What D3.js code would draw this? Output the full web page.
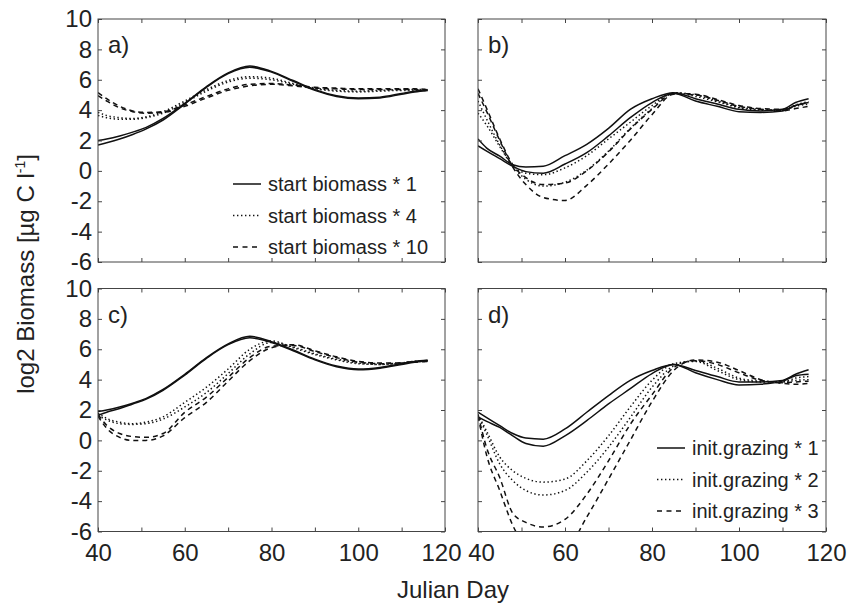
<!DOCTYPE html>
<html>
<head>
<meta charset="utf-8">
<script src="https://cdn.jsdelivr.net/npm/d3@7"></script>
<style>
  body { margin: 0; background: #fff; }
  svg { display: block; font-family: "Liberation Sans", Arial, sans-serif; }
</style>
</head>
<body>
<div id="chart"></div>
<script>
// sample days shared by all curves
const days = [40, 42, 45, 48, 51, 55, 60, 65, 70, 75, 80, 85, 90, 95, 100, 105, 110, 113, 116];

// a) start biomass
const aSolid = [
  [2.0, 2.1, 2.3, 2.55, 2.85, 3.45, 4.45, 5.55, 6.45, 6.9, 6.55, 5.95, 5.35, 4.95, 4.8, 4.85, 5.1, 5.25, 5.35],
  [1.7, 1.85, 2.1, 2.4, 2.75, 3.35, 4.4, 5.5, 6.4, 6.82, 6.5, 5.9, 5.3, 4.9, 4.75, 4.8, 5.05, 5.2, 5.3]
];
const aDotted = [
  [3.85, 3.65, 3.5, 3.45, 3.55, 3.9, 4.6, 5.35, 5.95, 6.2, 6.1, 5.75, 5.45, 5.3, 5.25, 5.3, 5.35, 5.35, 5.35],
  [3.65, 3.5, 3.4, 3.4, 3.5, 3.8, 4.5, 5.25, 5.85, 6.1, 6.0, 5.7, 5.4, 5.25, 5.2, 5.25, 5.3, 5.3, 5.3]
];
const aDashed = [
  [5.15, 4.75, 4.25, 3.95, 3.85, 3.9, 4.35, 4.9, 5.4, 5.7, 5.75, 5.65, 5.5, 5.45, 5.4, 5.4, 5.4, 5.4, 5.35],
  [4.95, 4.6, 4.15, 3.9, 3.8, 3.85, 4.25, 4.8, 5.3, 5.6, 5.7, 5.6, 5.45, 5.4, 5.35, 5.35, 5.35, 5.35, 5.3]
];

// b)
const bSolid = [
  [2.1, 1.5, 0.97, 0.4, 0.25, 0.3, 1.0, 1.75, 2.8, 4.05, 4.75, 5.15, 4.75, 4.4, 4.05, 3.95, 4.05, 4.5, 4.75],
  [1.65, 1.3, 0.8, 0.3, -0.05, -0.15, 0.45, 1.2, 2.3, 3.5, 4.5, 5.1, 4.6, 4.25, 3.9, 3.85, 3.95, 4.3, 4.5]
];
const bDotted = [
  [4.6, 3.4, 1.7, 0.35, -0.15, -0.25, 0.2, 1.0, 2.1, 3.2, 4.3, 5.15, 4.9, 4.55, 4.15, 4.0, 4.0, 4.35, 4.55],
  [3.8, 3.0, 1.6, 0.3, -0.55, -1.0, -0.75, 0.05, 1.3, 2.8, 4.1, 5.15, 5.0, 4.6, 4.2, 4.05, 4.0, 4.25, 4.4]
];
const bDashed = [
  [5.4, 4.1, 2.1, 0.4, -0.45, -0.9, -0.8, 0.0, 1.25, 2.75, 4.05, 5.1, 5.05, 4.7, 4.3, 4.1, 4.05, 4.3, 4.5],
  [5.1, 3.9, 2.0, 0.25, -0.9, -1.75, -1.95, -0.95, 0.45, 2.0, 3.7, 5.05, 5.0, 4.65, 4.25, 4.05, 3.95, 4.1, 4.25]
];

// c)
const cSolid = [
  [1.9, 2.0, 2.2, 2.45, 2.75, 3.35, 4.35, 5.45, 6.35, 6.85, 6.5, 5.95, 5.35, 4.9, 4.7, 4.8, 5.05, 5.2, 5.3],
  [1.65, 1.85, 2.1, 2.4, 2.7, 3.3, 4.3, 5.4, 6.3, 6.75, 6.45, 5.9, 5.3, 4.85, 4.65, 4.75, 5.0, 5.15, 5.25]
];
const cDotted = [
  [1.8, 1.45, 1.2, 1.1, 1.2, 1.55, 2.5, 3.5, 4.7, 6.0, 6.55, 6.1, 5.65, 5.3, 5.05, 5.0, 5.1, 5.2, 5.25],
  [1.65, 1.35, 1.1, 1.05, 1.1, 1.4, 2.2, 3.15, 4.4, 5.7, 6.45, 6.15, 5.7, 5.35, 5.1, 5.0, 5.1, 5.2, 5.2]
];
const cDashed = [
  [1.7, 1.0, 0.45, 0.25, 0.2, 0.45, 1.85, 2.85, 4.15, 5.45, 6.2, 6.25, 5.85, 5.45, 5.15, 5.05, 5.1, 5.2, 5.25],
  [1.6, 0.8, 0.2, 0.0, 0.0, 0.3, 1.5, 2.5, 3.9, 5.25, 6.1, 6.3, 5.9, 5.5, 5.2, 5.1, 5.1, 5.15, 5.2]
];

// d) initial grazing
const dSolid = [
  [1.85, 1.5, 0.97, 0.45, 0.15, 0.08, 0.75, 1.85, 2.95, 3.95, 4.6, 5.0, 4.6, 4.2, 3.85, 3.85, 3.95, 4.35, 4.65],
  [1.55, 1.25, 0.85, 0.3, -0.2, -0.38, 0.3, 1.3, 2.4, 3.4, 4.4, 5.0, 4.45, 4.0, 3.65, 3.7, 3.9, 4.25, 4.35]
];
const dDotted = [
  [1.7, 0.6, -1.1, -2.0, -2.5, -2.75, -2.55, -1.35, 0.3, 2.2, 3.95, 5.05, 5.2, 4.6, 4.0, 3.85, 3.85, 4.1, 4.2],
  [1.65, 0.4, -1.55, -2.65, -3.3, -3.6, -3.3, -2.1, -0.45, 1.5, 3.5, 4.9, 5.25, 4.75, 4.1, 3.9, 3.85, 3.95, 4.0]
];
const dDashed = [
  [1.7, -0.5, -2.45, -4.8, -5.4, -5.7, -5.2, -3.55, -1.35, 1.05, 3.0, 4.8, 5.25, 5.0, 4.45, 3.95, 3.8, 3.85, 3.9],
  [1.6, -1.0, -3.3, -5.6, -7.0, -7.7, -7.3, -5.05, -2.55, 0.0, 2.55, 4.6, 5.3, 5.15, 4.6, 4.0, 3.75, 3.7, 3.75]
];

const xTicks = [40, 50, 60, 70, 80, 90, 100, 110, 120];
const yTicks = [-6, -4, -2, 0, 2, 4, 6, 8, 10];
const legendA = ['start biomass * 1', 'start biomass * 4', 'start biomass * 10'];
const legendD = ['init.grazing * 1', 'init.grazing * 2', 'init.grazing * 3'];

const W = 850, H = 610;
const ink = '#111', textCol = '#222';
const dashes = { solid: null, dotted: '1.4,2.6', dashed: '5,4' };

const svg = d3.select('#chart').append('svg').attr('width', W).attr('height', H);
const defs = svg.append('defs');

const panels = [
  { id: 'a', box: [98, 445, 19, 262], series: [aSolid, aDotted, aDashed], showY: true, showX: false, legend: legendA, legX: 233, legY: 184 },
  { id: 'b', box: [478, 826, 19, 262], series: [bSolid, bDotted, bDashed], showY: false, showX: false },
  { id: 'c', box: [98, 445, 288.5, 531.5], series: [cSolid, cDotted, cDashed], showY: true, showX: true, edgeShift: { 120: -4 } },
  { id: 'd', box: [478, 826, 288.5, 531.5], series: [dSolid, dDotted, dDashed], showY: false, showX: true, edgeShift: { 40: 3 }, legend: legendD, legX: 657, legY: 448 }
];
const styles = ['solid', 'dotted', 'dashed'];

panels.forEach(p => {
  const [x0, x1, y0, y1] = p.box;
  const x = d3.scaleLinear().domain([40, 120]).range([x0, x1]);
  const y = d3.scaleLinear().domain([-6, 10]).range([y1, y0]);
  const g = svg.append('g');

  defs.append('clipPath').attr('id', 'clip-' + p.id)
    .append('rect').attr('x', x0).attr('y', y0).attr('width', x1 - x0).attr('height', y1 - y0);

  const line = d3.line().x((d, i) => x(days[i])).y(d => y(d)).curve(d3.curveMonotoneX);
  const lines = g.append('g').attr('clip-path', `url(#clip-${p.id})`);
  p.series.forEach((group, si) => {
    group.forEach(vals => {
      lines.append('path').attr('d', line(vals))
        .attr('fill', 'none').attr('stroke', ink).attr('stroke-width', 1.5)
        .attr('stroke-dasharray', dashes[styles[si]]);
    });
  });

  // ticks point inward on all four sides
  const bottom = g.append('g').attr('transform', `translate(0,${y1})`)
    .call(d3.axisBottom(x).tickValues(xTicks).tickSize(-4).tickPadding(12)
      .tickFormat(d => p.showX && d % 20 === 0 ? d : ''));
  if (p.edgeShift) {
    bottom.selectAll('.tick text').attr('dx', d => p.edgeShift[d] || 0);
  }
  g.append('g').attr('transform', `translate(0,${y0})`)
    .call(d3.axisTop(x).tickValues(xTicks).tickSize(-4).tickFormat(''));
  g.append('g').attr('transform', `translate(${x0},0)`)
    .call(d3.axisLeft(y).tickValues(yTicks).tickSize(-4).tickPadding(6)
      .tickFormat(d => p.showY ? d : ''));
  g.append('g').attr('transform', `translate(${x1},0)`)
    .call(d3.axisRight(y).tickValues(yTicks).tickSize(-4).tickFormat(''));

  g.selectAll('.domain').remove();
  g.selectAll('.tick line').attr('stroke', '#444');
  g.selectAll('.tick text').attr('fill', textCol).style('font-size', '24px')
    .style('font-family', '"Liberation Sans", Arial, sans-serif');

  g.append('rect').attr('x', x0).attr('y', y0).attr('width', x1 - x0).attr('height', y1 - y0)
    .attr('fill', 'none').attr('stroke', '#444').attr('stroke-width', 1);

  g.append('text').attr('x', x0 + 10).attr('y', y0 + 34)
    .attr('fill', textCol).style('font-size', '24px').text(p.id + ')');

  if (p.legend) {
    const leg = g.append('g');
    p.legend.forEach((lab, i) => {
      const ly = p.legY + i * 31.5;
      leg.append('line').attr('x1', p.legX).attr('x2', p.legX + 28).attr('y1', ly).attr('y2', ly)
        .attr('stroke', ink).attr('stroke-width', 1.5)
        .attr('stroke-dasharray', i === 2 ? '5,4.5' : dashes[styles[i]]);
      leg.append('text').attr('x', p.legX + 35).attr('y', ly).attr('dy', '0.35em')
        .attr('fill', textCol).style('font-size', '20px').text(lab);
    });
  }
});

svg.append('text').attr('x', 453).attr('y', 598).attr('text-anchor', 'middle')
  .attr('fill', textCol).style('font-size', '24px').text('Julian Day');

const yl = svg.append('text').attr('transform', 'translate(34,274) rotate(-90)')
  .attr('text-anchor', 'middle').attr('fill', textCol).style('font-size', '24px');
yl.append('tspan').text('log2 Biomass [µg C l');
yl.append('tspan').attr('dy', -9).style('font-size', '14px').text('-1');
yl.append('tspan').attr('dy', 9).text(']');
</script>
</body>
</html>
